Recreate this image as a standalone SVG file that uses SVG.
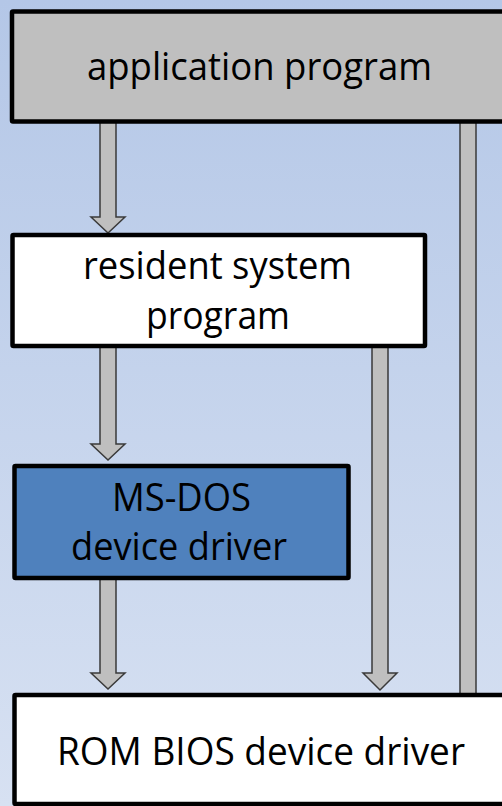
<svg xmlns="http://www.w3.org/2000/svg" width="502" height="806" viewBox="0 0 502 806">
  <defs>
    <linearGradient id="bg" x1="0" y1="0" x2="0" y2="1">
      <stop offset="0" stop-color="#b4c7e7"/>
      <stop offset="1" stop-color="#d7e1f2"/>
    </linearGradient>
    <style>
      .box { stroke: #000; stroke-width: 4.5; }
      .arrow { fill: #bfbfbf; stroke: #3a3a3a; stroke-width: 1.5; stroke-linejoin: miter; }
      .label { font-family: "Open Sans", "Noto Sans", sans-serif; font-size: 38px; fill: #000; text-anchor: middle; }
    </style>
  </defs>
  <rect x="0" y="0" width="502" height="806" fill="url(#bg)"/>

  <g id="connectors">
    <polygon class="arrow" points="100,122 116,122 116,217 125,217 108,233 91,217 100,217"/>
    <polygon class="arrow" points="100,346 116,346 116,444 125,444 108,460 91,444 100,444"/>
    <polygon class="arrow" points="100,579 116,579 116,673 125,673 108,689 91,673 100,673"/>
    <polygon class="arrow" points="372,346 388,346 388,673 397,673 380,690 363,673 372,673"/>
    <rect class="arrow" x="460" y="122" width="16" height="573"/>
  </g>

  <g id="application">
    <rect class="box" x="12" y="11.5" width="520" height="110" rx="1" fill="#bfbfbf"/>
    <text class="label" x="259.5" y="80" textLength="345" lengthAdjust="spacingAndGlyphs">application program</text>
  </g>

  <g id="resident">
    <rect class="box" x="12.5" y="235" width="412.5" height="111" rx="1" fill="#ffffff"/>
    <text class="label" x="217.5" y="279" textLength="269" lengthAdjust="spacingAndGlyphs">resident system</text>
    <text class="label" x="218" y="329" textLength="144" lengthAdjust="spacingAndGlyphs">program</text>
  </g>

  <g id="msdos">
    <rect class="box" x="14.5" y="466" width="334" height="112" rx="1" fill="#4f81bd"/>
    <text class="label" x="181.5" y="511" textLength="139" lengthAdjust="spacingAndGlyphs">MS-DOS</text>
    <text class="label" x="179" y="560" textLength="216" lengthAdjust="spacingAndGlyphs">device driver</text>
  </g>

  <g id="rombios">
    <rect class="box" x="14.5" y="695" width="520" height="109" rx="1" fill="#ffffff"/>
    <text class="label" x="261" y="765" textLength="408" lengthAdjust="spacingAndGlyphs">ROM BIOS device driver</text>
  </g>
</svg>
